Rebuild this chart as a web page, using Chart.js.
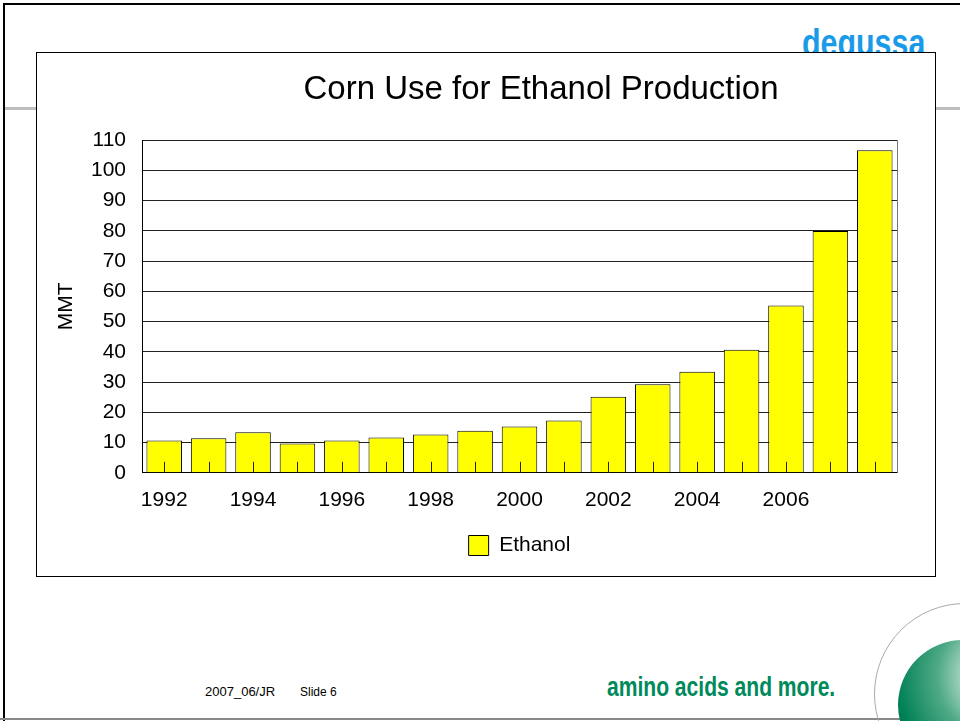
<!DOCTYPE html>
<html>
<head>
<meta charset="utf-8">
<script src="https://cdn.jsdelivr.net/npm/chart.js@4/dist/chart.umd.min.js"></script>
<style>
  html, body { margin: 0; padding: 0; background: #fff; }
  body { width: 960px; height: 721px; position: relative; overflow: hidden; font-family: 'Liberation Sans', Arial, sans-serif; }
  .frameTop { position: absolute; left: 3px; top: 3px; width: 957px; height: 2px; background: #000; }
  .frameLeft { position: absolute; left: 3px; top: 3px; width: 2px; height: 718px; background: #000; }
  .frameBottom { position: absolute; left: 0; top: 718px; width: 960px; height: 2px; background: #888; }
  .grayRule { position: absolute; left: 5px; top: 107px; width: 955px; height: 3px; background: #bdbdbd; }
  .logo { position: absolute; left: 802px; top: 22px; color: #1a9be8; font: bold 38px 'Liberation Sans', Arial, sans-serif; transform: scaleX(0.8); transform-origin: left top; }
  .box { position: absolute; left: 36px; top: 52px; width: 898px; height: 523px; border: 1.5px solid #000; background: #fff; }
  .box canvas { position: absolute; left: 0; top: 0; }
  .title { position: absolute; left: 0; width: 1008px; top: 18px; text-align: center; font-size: 33px; line-height: 33px; color: #000; }
  .foot1 { position: absolute; left: 205px; top: 684px; font-size: 13px; color: #000; }
  .foot2 { position: absolute; left: 300px; top: 685px; font-size: 12px; color: #000; }
  .slogan { position: absolute; left: 607px; top: 672px; color: #008a5c; font: bold 27px 'Liberation Sans', Arial, sans-serif; transform: scaleX(0.78); transform-origin: left top; white-space: nowrap; }
  .ring { position: absolute; left: 874px; top: 603px; width: 180px; height: 180px; border: 1.5px solid #aaa; border-radius: 50%; }
  .ball { position: absolute; left: 898px; top: 640px; width: 130px; height: 130px; border-radius: 50%;
          background: radial-gradient(circle at 78% 28%, #ffffff 0%, #cfe9df 18%, #4faa86 45%, #008055 75%, #006a45 100%); }
</style>
</head>
<body>
<div class="frameTop"></div>
<div class="frameLeft"></div>
<div class="frameBottom"></div>
<div class="grayRule"></div>
<div class="logo">degussa</div>
<div class="box">
  <canvas id="chartOne" width="898" height="523"></canvas>
  <div class="title">Corn Use for Ethanol Production</div>
</div>
<div class="foot1">2007_06/JR</div>
<div class="foot2">Slide 6</div>
<div class="slogan">amino acids and more.</div>
<div class="ring"></div>
<div class="ball"></div>

<script>
const years = ['1992', '1993', '1994', '1995', '1996', '1997', '1998', '1999', '2000',
               '2001', '2002', '2003', '2004', '2005', '2006', '2007', '2008'];
const ethanol = [10.7, 11.4, 13.4, 9.7, 10.7, 11.7, 12.7, 13.9, 15.3,
                 17.3, 25.1, 29.3, 33.4, 40.7, 55.3, 79.9, 106.6];
const shownYears = ['1992', '1994', '1996', '1998', '2000', '2002', '2004', '2006'];

const fontFamily = "'Liberation Sans', Arial, sans-serif";

// excel style: little category ticks pointing into the plot, plus the right frame
const innerTicks = {
    id: 'innerTicks',
    afterDatasetsDraw(chart) {
        const ctx = chart.ctx;
        const area = chart.chartArea;
        const x = chart.scales.x;
        ctx.save();
        ctx.strokeStyle = '#222';
        ctx.lineWidth = 1;
        ctx.beginPath();
        for (let i = 0; i < years.length; i++) {
            const px = Math.round(x.getPixelForValue(i)) + 0.5;
            ctx.moveTo(px, area.bottom);
            ctx.lineTo(px, area.bottom - 11);
        }
        ctx.stroke();
        ctx.strokeStyle = '#777';
        ctx.beginPath();
        ctx.moveTo(Math.round(area.right) + 0.5, area.top);
        ctx.lineTo(Math.round(area.right) + 0.5, area.bottom);
        ctx.stroke();
        ctx.restore();
    }
};

const firstChart = document.getElementById('chartOne').getContext('2d');

const cornChart = new Chart(firstChart, {
    type: 'bar',
    data: {
        labels: years,
        datasets: [{
            label: 'Ethanol',
            data: ethanol,
            backgroundColor: '#ffff00',
            borderColor: '#000',
            borderWidth: 1,
            barPercentage: 0.8,
            categoryPercentage: 1.0
        }]
    },
    options: {
        responsive: false,
        animation: false,
        layout: {
            padding: { left: 0, right: 38, top: 87, bottom: 10 }
        },
        scales: {
            x: {
                grid: { display: false, drawTicks: false },
                border: { color: '#000', width: 1 },
                ticks: {
                    autoSkip: false,
                    maxRotation: 0,
                    padding: 15,
                    color: '#000',
                    font: { family: fontFamily, size: 21 },
                    callback: function (value, index) {
                        const label = years[index];
                        return shownYears.includes(label) ? label : '';
                    }
                }
            },
            y: {
                min: 0,
                max: 110,
                afterFit: function (scale) {
                    scale.width = 105;
                },
                grid: { color: '#222', lineWidth: 1, drawTicks: false },
                border: { color: '#000', width: 1 },
                ticks: {
                    stepSize: 10,
                    padding: 16,
                    color: '#000',
                    font: { family: fontFamily, size: 21 }
                },
                title: {
                    display: true,
                    text: 'MMT',
                    color: '#000',
                    padding: { top: 17, bottom: 0 },
                    font: { family: fontFamily, size: 21 }
                }
            }
        },
        plugins: {
            legend: {
                display: true,
                position: 'bottom',
                fullSize: false,
                labels: {
                    boxWidth: 20,
                    boxHeight: 20,
                    padding: 7,
                    color: '#000',
                    font: { family: fontFamily, size: 21 }
                }
            },
            tooltip: { enabled: false }
        }
    },
    plugins: [innerTicks]
});
</script>
</body>
</html>
